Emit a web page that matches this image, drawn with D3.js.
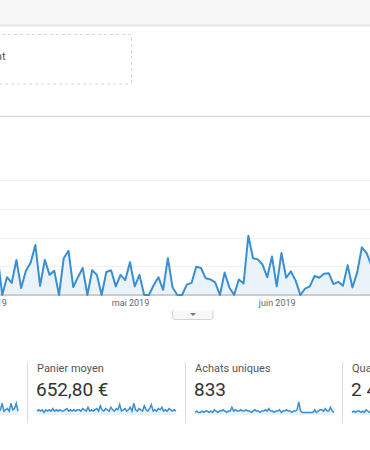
<!DOCTYPE html>
<html>
<head>
<meta charset="utf-8">
<script src="https://cdn.jsdelivr.net/npm/d3@7"></script>
<style>
  html, body { margin: 0; padding: 0; background: #fff; }
  svg { display: block; font-family: Roboto, "Liberation Sans", Arial, sans-serif; }
</style>
</head>
<body>
<svg id="chart" width="370" height="450"></svg>
<script>
// daily transactions, 3 avril -> 22 juin 2019
const startDay = new Date(2019, 3, 3);
const transactions = [
  7.0, 0, 3.1, 2.1, 6.1, 1.2, 4.2, 5.6, 8.7, 1.6, 6.1, 3.5, 4.2, 0, 6.4, 7.7, 1.4, 3.1, 4.7, 0,
  4.3, 3.5, 0, 4.0, 4.3, 1.5, 3.5, 2.6, 5.7, 1.5, 3.5, 0, 0, 1.7, 3.1, 0.9, 6.4, 1.3, 0, 0,
  1.8, 2.1, 4.9, 4.7, 2.9, 2.7, 2.2, 0, 3.9, 1.3, 0, 2.7, 2.0, 10.3, 6.4, 6.2, 5.3, 3.1, 6.7, 1.5,
  7.3, 3.0, 4.1, 2.5, 0, 1.1, 1.5, 3.3, 3.0, 3.7, 3.8, 1.9, 2.3, 1.6, 5.2, 1.3, 3.9, 8.3, 7.3, 5.2,
  2.5
];
const yTicks = [0, 5, 10, 15, 20];
const monthTicks = [new Date(2019, 3, 1), new Date(2019, 4, 1), new Date(2019, 5, 1)];
const monthLabels = ["avr. 2019", "mai 2019", "juin 2019"];

// scorecards (the first one is cropped off, only its sparkline shows)
const cardLabels = ["", "Panier moyen", "Achats uniques", "Quantité"];
const cardValues = ["", "652,80 €", "833", "2 438"];
const sparkConv = [3,4,3,2,4,3,5,3,4,3,2,4,3,5,4,3,2,4,3,4,5,3,4,2,3,6,3,4,3,5,3,4,2,3,5,4,3,6,3,4,
                   3,5,4,3,4,6,3,4,3,5,4,3,6,3,4,5,3,4,3,7,4,3,5,4,3,6,4,3,5,4,9,3,4,5,3,9,4,5,9,3];
const sparkPanier = [3,4,3,4,2,4,3,4,3,5,3,4,3,4,3,3,4,5,3,4,3,4,3,4,4,3,5,4,3,6,3,4,3,4,5,3,7,4,3,5,
                     4,3,6,4,3,5,4,8,3,4,5,3,4,6,3,9,4,3,5,4,3,7,4,3,5,8,3,4,3,5,4,6,3,4,3,5,4,3,4,3];
const sparkAchats = [2,3,2,2,3,2,3,3,2,3,2,4,3,2,3,3,4,3,2,3,3,6,3,4,3,3,4,3,3,4,3,3,2,3,4,3,3,2,3,3,
                     4,3,5,3,3,2,3,3,4,2,3,3,4,3,3,2,3,3,4,10,3,2,2,2,2,2,2,2,4,2,3,4,4,3,5,3,3,6,3,2];
const sparkQuant = [2,3,2,3,3,2,3,2,4,3,2,3,3,4,3,2,3,3,4,3,2,3,4,3,3,5,3,3,4,3,2,3,4,3,3,5,3,4,3,3,
                    4,3,5,3,3,4,3,6,3,4,3,5,3,4,3,6,3,3,4,8,3,3,4,3,5,3,4,3,6,3,4,3,5,3,6,3,4,7,3,3];
const sparks = [sparkConv, sparkPanier, sparkAchats, sparkQuant];

const blue = "#3a8fd2";
const svg = d3.select("#chart");

// top toolbar band
svg.append("rect").attr("x", 0).attr("y", 0).attr("width", 370).attr("height", 25).attr("fill", "#f6f6f6");
svg.append("line").attr("x1", 0).attr("x2", 370).attr("y1", 25.5).attr("y2", 25.5)
  .attr("stroke", "#e6e6e6").attr("stroke-width", 2);

// dashed segment box
svg.append("rect").attr("x", -60).attr("y", 34.5).attr("width", 191.5).attr("height", 49.5).attr("rx", 2)
  .attr("fill", "none").attr("stroke", "#d6d6d6").attr("stroke-dasharray", "3,3");
svg.append("text").attr("x", 5.5).attr("y", 60).attr("text-anchor", "end")
  .attr("font-size", 11).attr("fill", "#555").text("Ajouter un segment");

svg.append("line").attr("x1", 0).attr("x2", 370).attr("y1", 116.5).attr("y2", 116.5)
  .attr("stroke", "#dadada").attr("stroke-width", 1.5);

// main line chart
const x = d3.scaleTime().domain([monthTicks[1], monthTicks[2]]).range([130, 276.7]);
const y = d3.scaleLinear().domain([0, 20]).range([295, 180]);
const series = transactions.map((v, i) => ({ date: d3.timeDay.offset(startDay, i), value: v }));

svg.append("g").selectAll("line").data(yTicks.slice(1)).join("line")
  .attr("x1", 0).attr("x2", 370)
  .attr("y1", d => Math.round(y(d)) + 0.5).attr("y2", d => Math.round(y(d)) + 0.5)
  .attr("stroke", "#f0f0f0");

svg.append("path").datum(series)
  .attr("fill", "#ebf3fa")
  .attr("d", d3.area().x(d => x(d.date)).y0(y(0)).y1(d => y(d.value)));

svg.append("line").attr("x1", 0).attr("x2", 370).attr("y1", y(0)).attr("y2", y(0))
  .attr("stroke", "#cccccc").attr("stroke-width", 2);

svg.append("path").datum(series)
  .attr("fill", "none").attr("stroke", blue).attr("stroke-width", 2).attr("stroke-linejoin", "round")
  .attr("d", d3.line().x(d => x(d.date)).y(d => y(d.value)));

const xAxis = svg.append("g").attr("transform", `translate(0,${y(0)})`)
  .call(d3.axisBottom(x).tickValues(monthTicks).tickSize(0).tickFormat((d, i) => monthLabels[i]));
xAxis.select(".domain").remove();
xAxis.selectAll("text").attr("dy", 0).attr("y", 11).attr("font-size", 9)
  .attr("fill", "#666").attr("font-family", "Roboto, Arial, sans-serif");

// collapse toggle under chart
svg.append("path")
  .attr("d", "M172.5,310.5 V317 Q172.5,319.5 175,319.5 H210.5 Q213,319.5 213,317 V310.5")
  .attr("fill", "#f8f8f8").attr("stroke", "#d4d4d4");
svg.append("path").attr("d", "M190,313 L196,313 L193,316 Z").attr("fill", "#777");

// scorecards
const cardSep = [-130.5, 27.5, 185.5, 342.5];
const cards = svg.append("g").selectAll("g").data(cardSep).join("g")
  .attr("transform", d => `translate(${d},0)`);

cards.append("line").attr("x1", 0).attr("x2", 0).attr("y1", 362).attr("y2", 423).attr("stroke", "#dcdcdc");
cards.filter((d, i) => cardLabels[i]).append("text").attr("x", 9.5).attr("y", 372).attr("font-size", 11).attr("fill", "#555")
  .text(d => cardLabels[cardSep.indexOf(d)]);
cards.filter((d, i) => cardValues[i]).append("text").attr("x", 8.5).attr("y", 396).attr("font-size", 19).attr("fill", "#333")
  .text(d => cardValues[cardSep.indexOf(d)]);

const sx = d3.scaleLinear().domain([0, 79]).range([9.5, 148.5]);
const sy = d3.scaleLinear().domain([0, 10]).range([415, 402]);
cards.append("path").datum((d, i) => sparks[i])
  .attr("fill", "#eaf2fa")
  .attr("d", d3.area().x((v, j) => sx(j)).y0(415).y1(v => sy(v)));
cards.append("path").datum((d, i) => sparks[i])
  .attr("fill", "none").attr("stroke", blue).attr("stroke-width", 1.5)
  .attr("d", d3.line().x((v, j) => sx(j)).y(v => sy(v)));
</script>
</body>
</html>
